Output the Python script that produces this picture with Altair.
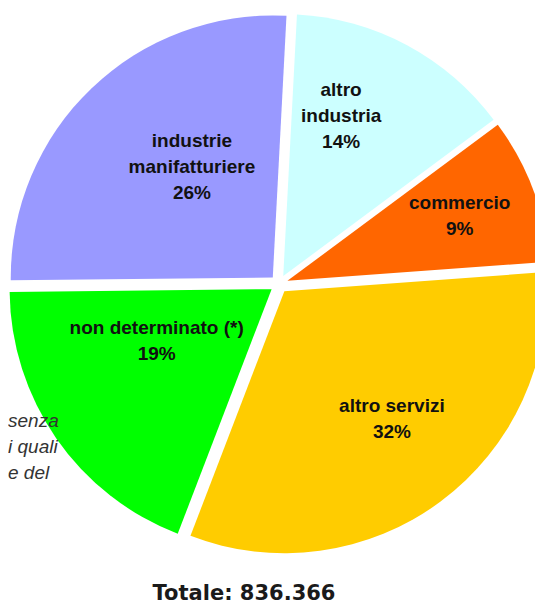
import math
import altair as alt
import pandas as pd

# ---- data ----
categories = ["altro industria", "commercio", "altro servizi",
              "non determinato (*)", "industrie manifatturiere"]
label_names = ["altro\nindustria", "commercio", "altro servizi",
               "non determinato (*)", "industrie\nmanifatturiere"]
shares = [14, 9, 32, 19, 26]
total_text = "Totale: 836.366"
note_fragments = ["senza", "i quali", "e del"]

# ---- styling / layout ----
colors = ["#CCFFFF", "#FF6600", "#FFCC00", "#00FF00", "#9999FF"]
label_radius = [179, 193, 176, 135, 146]      # label distance from centre
label_shift = [-7.9, -0.2, -3.3, 9.8, 7.2]     # degrees nudge from slice mid-angle
LINE_H = 26
CX, CY, R = 271, 276, 262
EXPLODE = 9
START = math.radians(3)
W, H = 527, 599

df = pd.DataFrame({
    "idx": list(range(len(categories))),
    "cat": categories,
    "share": shares,
    "color": colors,
    "label": [f"{n}\n{s}%" for n, s in zip(label_names, shares)],
    "lr": label_radius,
    "ls": label_shift,
})

base = (
    alt.Chart(df)
    .transform_window(cum="sum(share)", sort=[alt.SortField("idx")], frame=[None, 0])
    .transform_joinaggregate(tot="sum(share)")
    .transform_calculate(
        a0=f"{START} + 2*PI*(datum.cum - datum.share)/datum.tot",
        a1=f"{START} + 2*PI*datum.cum/datum.tot",
        nl="length(split(datum.label, '\\n'))",
    )
    .transform_calculate(mid="(datum.a0 + datum.a1)/2")
    .transform_calculate(
        px=f"{CX} + {EXPLODE}*sin(datum.mid)",
        py=f"{CY} - {EXPLODE}*cos(datum.mid)",
        lx=f"{CX} + datum.lr*sin(datum.mid + datum.ls*PI/180)",
        ly=f"{CY} - datum.lr*cos(datum.mid + datum.ls*PI/180) - (datum.nl - 1)*{LINE_H}/2",
    )
)

arcs = base.mark_arc(radius=R, strokeWidth=0).encode(
    theta=alt.Theta("a0:Q", scale=None, stack=None),
    theta2=alt.Theta2("a1:Q"),
    x=alt.X("px:Q", scale=None),
    y=alt.Y("py:Q", scale=None),
    color=alt.Color("color:N", scale=None),
)

labels = base.mark_text(
    font="Liberation Sans", fontSize=19, fontWeight="bold", color="#111111",
    align="center", baseline="middle", lineBreak="\n", lineHeight=LINE_H,
).encode(
    x=alt.X("lx:Q", scale=None),
    y=alt.Y("ly:Q", scale=None),
    text="label:N",
)

notes_df = pd.DataFrame({"t": note_fragments, "row": [0, 1, 2]})
notes = (
    alt.Chart(notes_df)
    .transform_calculate(ny="419 + 26*datum.row")
    .mark_text(font="Liberation Sans", fontSize=19, fontStyle="italic",
               color="#333333", align="left", baseline="alphabetic")
    .encode(x=alt.value(0), y=alt.Y("ny:Q", scale=None), text="t:N")
)

title = (
    alt.Chart(pd.DataFrame({"t": [total_text]}))
    .mark_text(font="DejaVu Sans", fontSize=21, fontWeight="bold",
               color="#1a1a1a", align="center", baseline="alphabetic")
    .encode(x=alt.value(236), y=alt.value(592), text="t:N")
)

chart = (
    alt.layer(arcs, labels, notes, title)
    .properties(width=W, height=H, padding=0, autosize=alt.AutoSizeParams(type="none"))
    .configure_view(stroke=None)
)

chart.save("out.html", embed_options={"renderer": "svg", "actions": False})
